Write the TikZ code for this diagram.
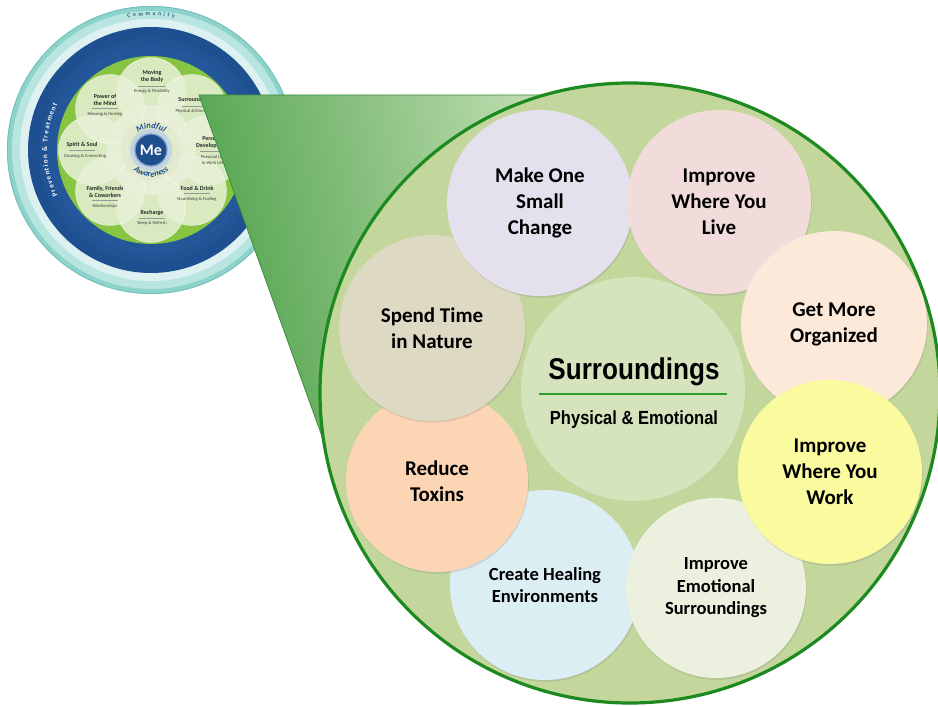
\documentclass[tikz,border=0pt]{standalone}
\usepackage{fontspec}
\setmainfont{Carlito}
\newfontfamily\narrowfont[FakeStretch=0.87]{Liberation Sans}
\usetikzlibrary{shadows,decorations.text}
\definecolor{tealc}{HTML}{8ED2CC}
\definecolor{tealmid}{HTML}{B9E5E1}
\definecolor{teallight}{HTML}{DDF2F0}
\definecolor{tealdark}{HTML}{72BFB9}
\definecolor{ringblue}{HTML}{1E4F90}
\definecolor{ringblue2}{HTML}{2A63A6}
\definecolor{wgreen}{HTML}{86C442}
\definecolor{wcenter}{HTML}{DFE9CC}
\definecolor{petalc}{HTML}{E8F1D8}
\definecolor{meblue}{HTML}{1F4E8C}
\definecolor{halo}{HTML}{B9CFE8}
\definecolor{commblue}{HTML}{24587A}
\definecolor{conedark}{HTML}{4FA24B}
\definecolor{conemid}{HTML}{70B868}
\definecolor{conelight}{HTML}{D0E6C0}
\definecolor{coneedge}{HTML}{3E8E3C}
\definecolor{bigfill}{HTML}{C3D79D}
\definecolor{bigedge}{HTML}{1C8A1E}
\definecolor{centerc}{HTML}{D6E4BD}
\definecolor{ulgreen}{HTML}{2F9A32}
\definecolor{cmake}{HTML}{E4E0EE}
\definecolor{clive}{HTML}{F2DCDB}
\definecolor{corg}{HTML}{FDE9D9}
\definecolor{cwork}{HTML}{FAFA9E}
\definecolor{cemo}{HTML}{EBF1DE}
\definecolor{cheal}{HTML}{DBEEF4}
\definecolor{creduce}{HTML}{FCD5B4}
\definecolor{cspend}{HTML}{DDD9C3}
\begin{document}
\begin{tikzpicture}[x=1pt,y=-1pt,
  bub/.style={circle, inner sep=0pt, align=center, text=black,
    font=\bfseries\fontsize{21}{26}\selectfont,
    drop shadow={shadow xshift=0.8pt, shadow yshift=-1.8pt, opacity=0.22}},
  smallbub/.style={bub, font=\bfseries\fontsize{18.5}{22.5}\selectfont},
  petal/.style={circle, inner sep=0pt, minimum size=69pt, fill=petalc, fill opacity=0.85, draw=white, draw opacity=0.6, line width=0.5pt},
  ptitle/.style={align=center, inner sep=0pt, font=\bfseries\fontsize{6}{7}\selectfont, text=black!85},
  psub/.style={align=center, inner sep=0pt, font=\fontsize{4.6}{5.4}\selectfont, text=black!75},
  psep/.style={draw=black!40, line width=0.3pt},
]
\fill[white] (0,0) rectangle (938,706);
\useasboundingbox (0,0) rectangle (938,706);

% ---------------- small wheel ----------------
\begin{scope}[shift={(151,150)}, y=1pt]
  \fill[tealc] (0,0) circle[radius=144];
  \draw[tealdark, line width=0.8pt] (0,0) circle[radius=143.6];
  \fill[tealmid] (0,0) circle[radius=139];
  \fill[teallight] (0,0) circle[radius=131];
  \fill[ringblue] (0,0) circle[radius=123];
  \fill[ringblue2, opacity=0.25] (0,0) circle[radius=112];
  \fill[ringblue2, opacity=0.25] (0,0) circle[radius=104];
  \fill[wgreen] (0,0) circle[radius=94];
  \fill[wcenter] (0,0) circle[radius=45];
  \foreach \a/\n in {90/pmove,45/psurr,0/ppers,-45/pfood,-90/prech,-135/pfam,180/pspirit,135/pmind}
    \node[petal] (\n) at (\a:58) {};
  \fill[wcenter, opacity=0.7] (0,0) circle[radius=30];
  \fill[halo, opacity=0.8] (0,0) circle[radius=21];
  \node[circle, fill=meblue, draw=halo!60!meblue, line width=1.2pt, minimum size=32pt, inner sep=0pt,
        text=white, font=\bfseries\fontsize{16}{16}\selectfont] (me) at (0,0) {Me};
  % petal texts
  \node[ptitle] (tmove) at (1,73.5) {Moving\\the Body};
  \coordinate (smove1) at (-13,64); \coordinate (smove2) at (15,64);
  \draw[psep] (smove1) -- (smove2);
  \node[psub] (umove) at (1,59) {Energy \& Flexibility};

  \node[ptitle] (tmind) at (-46,50.5) {Power of\\the Mind};
  \coordinate (smind1) at (-59,42); \coordinate (smind2) at (-33,42);
  \draw[psep] (smind1) -- (smind2);
  \node[psub] (umind) at (-46,36) {Relaxing \& Healing};

  \node[ptitle] (tspirit) at (-69,5) {Spirit \& Soul};
  \coordinate (sspirit1) at (-82,0); \coordinate (sspirit2) at (-56,0);
  \draw[psep] (sspirit1) -- (sspirit2);
  \node[psub] (uspirit) at (-66,-6) {Growing \& Connecting};

  \node[ptitle] (tfam) at (-46,-41.5) {Family, Friends\\\& Coworkers};
  \coordinate (sfam1) at (-59,-50); \coordinate (sfam2) at (-33,-50);
  \draw[psep] (sfam1) -- (sfam2);
  \node[psub] (ufam) at (-46,-56) {Relationships};

  \node[ptitle] (trech) at (1,-63) {Recharge};
  \coordinate (srech1) at (-12,-68); \coordinate (srech2) at (14,-68);
  \draw[psep] (srech1) -- (srech2);
  \node[psub] (urech) at (1,-73) {Sleep \& Refresh};

  \node[ptitle] (tfood) at (46,-38) {Food \& Drink};
  \coordinate (sfood1) at (33,-43); \coordinate (sfood2) at (59,-43);
  \draw[psep] (sfood1) -- (sfood2);
  \node[psub] (ufood) at (46,-49) {Nourishing \& Fueling};

  \node[ptitle] (tpers) at (62,7.5) {Personal\\Development};
  \coordinate (spers1) at (49,-1); \coordinate (spers2) at (75,-1);
  \draw[psep] (spers1) -- (spers2);
  \node[psub] (upers) at (62,-10) {Personal Life\\\& Work Life};

  \node[ptitle] (tsurr) at (44,50) {Surroundings};
  \coordinate (ssurr1) at (31,44); \coordinate (ssurr2) at (57,44);
  \draw[psep] (ssurr1) -- (ssurr2);
  \node[psub] (usurr) at (44,39) {Physical \& Emotional};

  % curved texts
  \path[decorate, decoration={text along path, text align=center,
     text={|\color{meblue}\bfseries\itshape\fontsize{8.5}{9}\selectfont|Mindful}}]
     (150:21.5) arc[start angle=150, end angle=30, radius=21.5];
  \path[decorate, decoration={text along path, text align=center,
     text={|\color{meblue}\bfseries\itshape\fontsize{8.5}{9}\selectfont|Awareness}}]
     (205:27) arc[start angle=205, end angle=335, radius=27];
  \path[decorate, decoration={text along path, text align={fit to path},
     text={|\color{commblue}\bfseries\fontsize{5.5}{6}\selectfont|Community}}]
     (100:134.5) arc[start angle=100, end angle=80, radius=134.5];
  \path[decorate, decoration={text along path, text align={fit to path},
     text={|\color{white}\bfseries\fontsize{7}{7}\selectfont|Prevention {\&} Treatment}}]
     (206:104) arc[start angle=206, end angle=154, radius=104];
\end{scope}

% ---------------- cone ----------------
\coordinate (c1) at (199,95);
\coordinate (c2) at (600,95);
\coordinate (c3) at (630,393);
\coordinate (c4) at (337,478);
\shade[shading=axis, bottom color=conedark, middle color=conemid, top color=conelight, shading angle=-78]
  (c1) -- (c2) -- (c3) -- (c4) -- cycle;
\draw[coneedge, line width=0.8pt] (c4) -- (c1) -- (c2);

% ---------------- big circle ----------------
\node[circle, inner sep=0pt, minimum size=620pt, fill=bigfill, draw=bigedge, line width=3.2pt] (big) at (630,393) {};
\node[circle, inner sep=0pt, minimum size=224pt, fill=centerc] (center) at (633,389) {};

\node[smallbub, fill=cheal, minimum size=190pt] (heal) at (545,585) {Create Healing\\Environments};
\node[bub, fill=creduce, minimum size=182pt] (reduce) at (437,481) {Reduce\\Toxins};
\node[bub, fill=cspend, minimum size=186pt] (spend) at (432,328) {Spend Time\\in Nature};
\node[bub, fill=cmake, minimum size=186pt] (make) at (540,203) {Make One\\Small\\Change};
\node[bub, fill=clive, minimum size=184pt] (live) at (719,202) {Improve\\Where You\\Live};
\node[bub, fill=corg, minimum size=186pt] (org) at (834,324) {Get More\\Organized};
\node[smallbub, fill=cemo, minimum size=180pt] (emo) at (716,588) {Improve\\Emotional\\Surroundings};
\node[bub, fill=cwork, minimum size=184pt] (work) at (830,472) {Improve\\Where You\\Work};

\node[inner sep=0pt, font=\narrowfont\bfseries\fontsize{30}{30}\selectfont] (title) at (634,372) {Surroundings};
\coordinate (u1) at (539,394);
\coordinate (u2) at (727,394);
\draw[ulgreen, line width=2pt] (u1) -- (u2);
\node[inner sep=0pt, font=\narrowfont\bfseries\fontsize{19}{19}\selectfont] (subtitle) at (634,420) {Physical \& Emotional};
\end{tikzpicture}
\end{document}
